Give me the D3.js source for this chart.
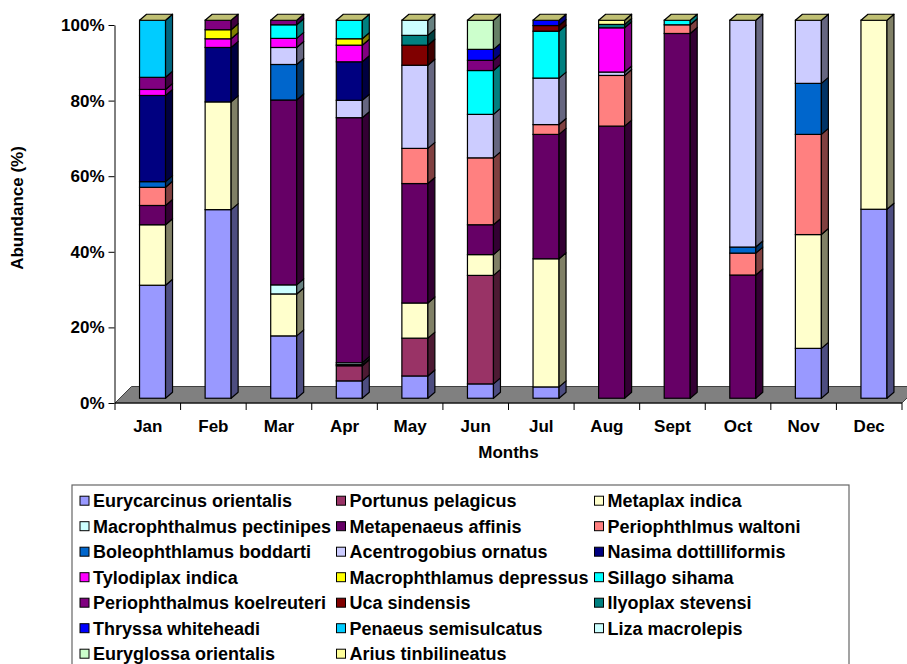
<!DOCTYPE html>
<html>
<head>
<meta charset="utf-8">
<script src="https://cdn.jsdelivr.net/npm/d3@7"></script>
<style>
	body { margin: 0; background: #fff; }
	text { font-family: "Liberation Sans", Arial, sans-serif; font-weight: bold; fill: #000; }
</style>
</head>
<body>
<svg id="chart" width="907" height="664"></svg>
<script>
const months = ["Jan", "Feb", "Mar", "Apr", "May", "Jun", "Jul", "Aug", "Sept", "Oct", "Nov", "Dec"];

const species = [
	"Eurycarcinus orientalis", "Portunus pelagicus", "Metaplax indica",
	"Macrophthalmus pectinipes", "Metapenaeus affinis", "Periophthlmus waltoni",
	"Boleophthlamus boddarti", "Acentrogobius ornatus", "Nasima dottilliformis",
	"Tylodiplax indica", "Macrophthlamus depressus", "Sillago sihama",
	"Periophthalmus koelreuteri", "Uca sindensis", "Ilyoplax stevensi",
	"Thryssa whiteheadi", "Penaeus semisulcatus", "Liza macrolepis",
	"Euryglossa orientalis", "Arius tinbilineatus"
];

const speciesColors = [
	"#9999FF", "#993366", "#FFFFCC",
	"#CCFFFF", "#660066", "#FF8080",
	"#0066CC", "#CCCCFF", "#000080",
	"#FF00FF", "#FFFF00", "#00FFFF",
	"#800080", "#800000", "#008080",
	"#0000FF", "#00CCFF", "#CCFFFF",
	"#CCFFCC", "#FFFF99"
];

// abundance (%) per species, one value per month Jan..Dec
const abundance = [
	[29.9, 49.9, 16.5, 4.6, 5.9, 3.8, 3.0, 0, 0, 0, 13.2, 50],
	[0, 0, 0, 4.0, 10.0, 28.7, 0, 0, 0, 0, 0, 0],
	[16.0, 28.5, 11.1, 0.3, 9.3, 5.5, 33.9, 0, 0, 0, 30.1, 50],
	[0, 0, 2.4, 0.5, 0, 0, 0, 0, 0, 0, 0, 0],
	[5.1, 0, 48.9, 64.9, 31.6, 7.9, 32.9, 72.0, 96.5, 32.6, 0, 0],
	[4.8, 0, 0, 0, 9.3, 17.7, 2.6, 13.4, 2.3, 5.8, 26.5, 0],
	[1.5, 0, 9.4, 0, 0, 0, 0, 0, 0, 1.6, 13.5, 0],
	[0, 0, 4.5, 4.6, 22.0, 11.5, 12.3, 0.9, 0, 60.0, 16.7, 0],
	[22.8, 14.4, 0, 10.2, 0, 0, 0, 0, 0, 0, 0, 0],
	[1.6, 2.3, 2.4, 4.4, 0, 0, 0, 11.7, 0, 0, 0, 0],
	[0, 2.4, 0, 1.7, 0, 0, 0, 0, 0, 0, 0, 0],
	[0, 0, 3.6, 4.9, 0, 11.6, 12.4, 0, 1.2, 0, 0, 0],
	[3.2, 2.5, 1.2, 0, 0, 2.7, 0, 0, 0, 0, 0, 0],
	[0, 0, 0, 0, 5.3, 0, 1.5, 0, 0, 0, 0, 0],
	[0, 0, 0, 0, 2.6, 0, 0, 0.9, 0, 0, 0, 0],
	[0, 0, 0, 0, 0, 2.9, 1.4, 0, 0, 0, 0, 0],
	[15.1, 0, 0, 0, 0, 0, 0, 0, 0, 0, 0, 0],
	[0, 0, 0, 0, 4.0, 0, 0, 0, 0, 0, 0, 0],
	[0, 0, 0, 0, 0, 7.7, 0, 0, 0, 0, 0, 0],
	[0, 0, 0, 0, 0, 0, 0, 1.1, 0, 0, 0, 0]
];

const yTicks = [0, 0.2, 0.4, 0.6, 0.8, 1];
const yTitle = "Abundance (%)";
const xTitle = "Months";

function shade(c, k) {
	let rgb = d3.rgb(c);
	return d3.rgb(rgb.r * k, rgb.g * k, rgb.b * k).formatHex();
}

class AbundanceChart {
	constructor(svg) {
		this.svg = svg;
		this.barWidth = 26;
		this.depthX = 7;
		this.depthY = -6;
		this.floorDepth = 16.5;
		this.shift = 4.75;
		this.x = d3.scaleBand().domain(months).range([115, 902]);
		this.y = d3.scaleLinear().domain([0, 1]).range([403, 25]);
		this.color = d3.scaleOrdinal().domain(species).range(speciesColors);
		let table = months.map(function(m, j) {
			let row = { month: m };
			species.forEach(function(s, i) { row[s] = abundance[i][j]; });
			return row;
		});
		this.series = d3.stack().keys(species).offset(d3.stackOffsetExpand)(table);
	}

	drawFloor() {
		let r = this.x.range();
		let d = this.floorDepth;
		let base = this.y(0);
		let pts = [[r[0], base], [r[1], base], [r[1] + d, base - d], [r[0] + d, base - d]];
		this.svg.append("polygon")
			.attr("points", pts.map(function(p) { return p.join(","); }).join(" "))
			.attr("fill", "#808080")
			.attr("stroke", "#404040")
			.attr("stroke-width", 1);
	}

	drawAxes() {
		let x = this.x;
		let yAxis = d3.axisLeft(this.y)
			.tickValues(yTicks)
			.tickFormat(d3.format(".0%"))
			.tickSize(6)
			.tickSizeOuter(0)
			.tickPadding(4);
		let gy = this.svg.append("g")
			.attr("transform", "translate(114.5,0)")
			.call(yAxis);
		gy.selectAll("text").style("font-size", "17px");

		let xAxis = d3.axisBottom(x).tickSize(0).tickSizeOuter(0).tickPadding(17);
		let gx = this.svg.append("g")
			.attr("transform", "translate(0," + this.y(0) + ")")
			.call(xAxis);
		gx.selectAll("text").style("font-size", "17px");
		gx.select(".domain").remove();

		let edges = months.map(function(m) { return x(m); }).concat([x.range()[1]]);
		this.svg.append("line")
			.attr("x1", x.range()[0]).attr("x2", x.range()[1])
			.attr("y1", this.y(0)).attr("y2", this.y(0))
			.attr("stroke", "#000");
		this.svg.selectAll(".xtick")
			.data(edges)
			.enter()
			.append("line")
			.attr("class", "xtick")
			.attr("x1", function(d) { return d; })
			.attr("x2", function(d) { return d; })
			.attr("y1", this.y(0))
			.attr("y2", this.y(0) + 7)
			.attr("stroke", "#000");

		this.svg.append("text")
			.attr("transform", "translate(23,208) rotate(-90)")
			.attr("text-anchor", "middle")
			.style("font-size", "17px")
			.text(yTitle);
		this.svg.append("text")
			.attr("x", (x.range()[0] + x.range()[1]) / 2)
			.attr("y", 458)
			.attr("text-anchor", "middle")
			.style("font-size", "17px")
			.text(xTitle);
	}

	drawBars() {
		let x = this.x;
		let y = this.y;
		let bw = this.barWidth;
		let dx = this.depthX;
		let dy = this.depthY;
		let shift = this.shift;
		let color = this.color;
		let left = function(m) { return x(m) + (x.bandwidth() - bw) / 2 + shift; };
		let top = function(v) { return y(v) - shift; };

		let groups = this.svg.selectAll(".month")
			.data(months)
			.enter()
			.append("g")
			.attr("class", "month");

		let series = this.series;
		groups.each(function(m, j) {
			let g = d3.select(this);
			let xl = left(m);
			let xr = xl + bw;
			series.forEach(function(layer) {
				let seg = layer[j];
				if (seg[1] - seg[0] <= 0) return;
				let yb = top(seg[0]);
				let yt = top(seg[1]);
				let c = color(layer.key);
				g.append("rect")
					.attr("x", xl).attr("y", yt)
					.attr("width", bw).attr("height", yb - yt)
					.attr("fill", c)
					.attr("stroke", "#000")
					.attr("stroke-width", 1.2);
				g.append("polygon")
					.attr("points", [[xr, yt], [xr + dx, yt + dy], [xr + dx, yb + dy], [xr, yb]].join(" "))
					.attr("fill", shade(c, 0.5))
					.attr("stroke", "#000")
					.attr("stroke-width", 1.2)
					.attr("stroke-linejoin", "round");
			});
			// lid comes from the last series in the stack
			let last = series[series.length - 1];
			let yt = top(last[j][1]);
			g.append("polygon")
				.attr("points", [[xl, yt], [xl + dx, yt + dy], [xr + dx, yt + dy], [xr, yt]].join(" "))
				.attr("fill", shade(color(last.key), 0.75))
				.attr("stroke", "#000")
				.attr("stroke-width", 1.2)
				.attr("stroke-linejoin", "round");
		});
	}

	drawLegend() {
		let color = this.color;
		let colX = [80, 336.5, 594.5];
		this.svg.append("rect")
			.attr("x", 72).attr("y", 485)
			.attr("width", 777).attr("height", 190)
			.attr("fill", "#fff")
			.attr("stroke", "#666")
			.attr("stroke-width", 1.2);
		let items = this.svg.selectAll(".legendItem")
			.data(species)
			.enter()
			.append("g")
			.attr("class", "legendItem")
			.attr("transform", function(d, i) {
				return "translate(" + colX[i % 3] + "," + (500.7 + Math.floor(i / 3) * 25.5) + ")";
			});
		items.append("rect")
			.attr("x", 0).attr("y", -4.5)
			.attr("width", 9).attr("height", 9)
			.attr("fill", function(d) { return color(d); })
			.attr("stroke", "#000")
			.attr("stroke-width", 1);
		items.append("text")
			.attr("x", 13)
			.attr("y", 6.5)
			.style("font-size", "18px")
			.text(function(d) { return d; });
	}

	draw() {
		this.drawFloor();
		this.drawAxes();
		this.drawBars();
		this.drawLegend();
	}
}

let chart = new AbundanceChart(d3.select("#chart"));
chart.draw();
</script>
</body>
</html>
